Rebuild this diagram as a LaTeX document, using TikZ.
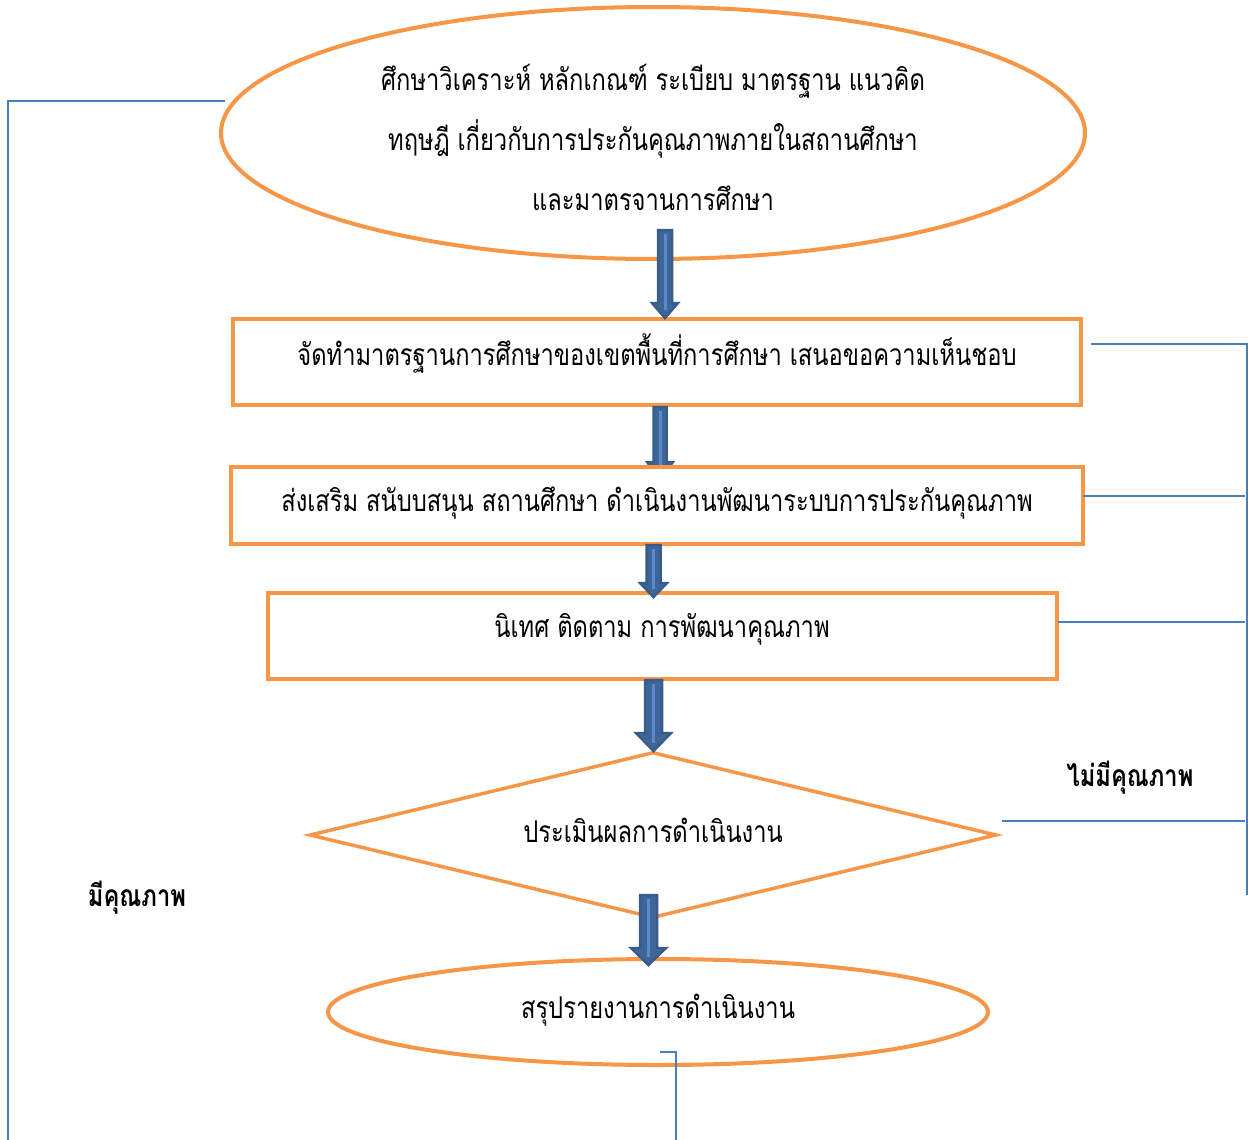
\documentclass[tikz,border=0pt]{standalone}
\usepackage{fontspec}
\newfontfamily\thaifont[Script=Thai, FakeStretch=0.79]{Loma}
\usetikzlibrary{shapes.geometric}
\definecolor{orng}{HTML}{F79646}
\definecolor{lblue}{HTML}{4A7EBB}
\definecolor{afill}{HTML}{3F6698}
\definecolor{adraw}{HTML}{385D8A}
\definecolor{astripe}{HTML}{5A8ACB}
\tikzset{
  box/.style={draw=orng, line width=4pt, fill=white, inner sep=0pt},
  oval/.style={ellipse, draw=orng, line width=4pt, inner sep=0pt},
  dia/.style={diamond, draw=orng, line width=3.5pt, inner sep=0pt},
  txt/.style={font=\thaifont\fontsize{30}{60}\selectfont, align=center, inner sep=0pt},
  lbl/.style={font=\thaifont\bfseries\fontsize{30}{34}\selectfont, inner sep=0pt},
  link/.style={draw=lblue, line width=2pt},
  barrow/.style={fill=afill, draw=adraw, line width=2.5pt, line join=miter},
  stripe/.style={draw=astripe, line width=3pt},
}
\newcommand{\blockarrow}[6]{% x, ytop, yheadtop, ytip, shaft half, head half
  \draw[barrow] (#1-#5,#2) -- (#1+#5,#2) -- (#1+#5,#3) -- (#1+#6,#3) -- (#1,#4)
     -- (#1-#6,#3) -- (#1-#5,#3) -- cycle;
  \draw[stripe] (#1,#2+4) -- (#1,#4-8);
}
\begin{document}
\begin{tikzpicture}[x=1pt,y=-1pt]
\useasboundingbox (0,0) rectangle (1248,1140);
% shapes
\node[oval, minimum width=864pt, minimum height=252pt] (e1) at (653,133) {};
\node[txt] (t1) at (653,137) {ศึกษาวิเคราะห์ หลักเกณฑ์ ระเบียบ มาตรฐาน แนวคิด\\ทฤษฎี เกี่ยวกับการประกันคุณภาพภายในสถานศึกษา\\และมาตรจานการศึกษา};
\node[box, minimum width=848pt, minimum height=86pt] (b1) at (657,362) {};
\node[txt] (t2) at (657,354) {จัดทำมาตรฐานการศึกษาของเขตพื้นที่การศึกษา เสนอขอความเห็นชอบ};
\blockarrow{660}{407}{462}{480}{6.5}{13}
\node[box, minimum width=852pt, minimum height=77pt] (b2) at (657,505.5) {};
\node[txt] (t3) at (657,503) {ส่งเสริม สนับบสนุน สถานศึกษา ดำเนินงานพัฒนาระบบการประกันคุณภาพ};
\node[box, minimum width=789pt, minimum height=86pt] (b3) at (662.5,636) {};
\node[txt] (t4) at (662,629) {นิเทศ ติดตาม การพัฒนาคุณภาพ};
\node[dia, minimum width=687pt, minimum height=166pt, aspect=4.14] (d) at (653,835) {};
\node[txt] (t5) at (653,830) {ประเมินผลการดำเนินงาน};
\node[oval, minimum width=660pt, minimum height=106pt] (e2) at (658,1012) {};
\node[txt] (t6) at (658,1010) {สรุปรายงานการดำเนินงาน};
% block arrows
\blockarrow{665}{230}{303}{318}{7}{13}
\blockarrow{653.5}{545}{583}{597}{7}{13.5}
\blockarrow{653.5}{680}{733}{751}{8.5}{17.5}
\blockarrow{648.5}{895}{948}{965}{8.5}{17.5}
% blue connectors
\coordinate (l1a) at (225,101);
\coordinate (l1b) at (8,101);
\coordinate (l1c) at (8,1140);
\draw[link] (l1a) -- (l1b) -- (l1c);
\coordinate (r1a) at (1091,344);
\coordinate (r1b) at (1247,344);
\coordinate (r1c) at (1247,895);
\draw[link] (r1a) -- (r1b) -- (r1c);
\coordinate (r2a) at (1083,496);
\coordinate (r2b) at (1245,496);
\draw[link] (r2a) -- (r2b);
\coordinate (r3a) at (1058,622);
\coordinate (r3b) at (1245,622);
\draw[link] (r3a) -- (r3b);
\coordinate (r4a) at (1002,821);
\coordinate (r4b) at (1245,821);
\draw[link] (r4a) -- (r4b);
\coordinate (bta) at (660,1052);
\coordinate (btb) at (676,1052);
\coordinate (btc) at (676,1140);
\draw[link] (bta) -- (btb) -- (btc);
% labels
\node[lbl] (no) at (1130,778) {ไม่มีคุณภาพ};
\node[lbl] (yes) at (137,898) {มีคุณภาพ};
\end{tikzpicture}
\end{document}
